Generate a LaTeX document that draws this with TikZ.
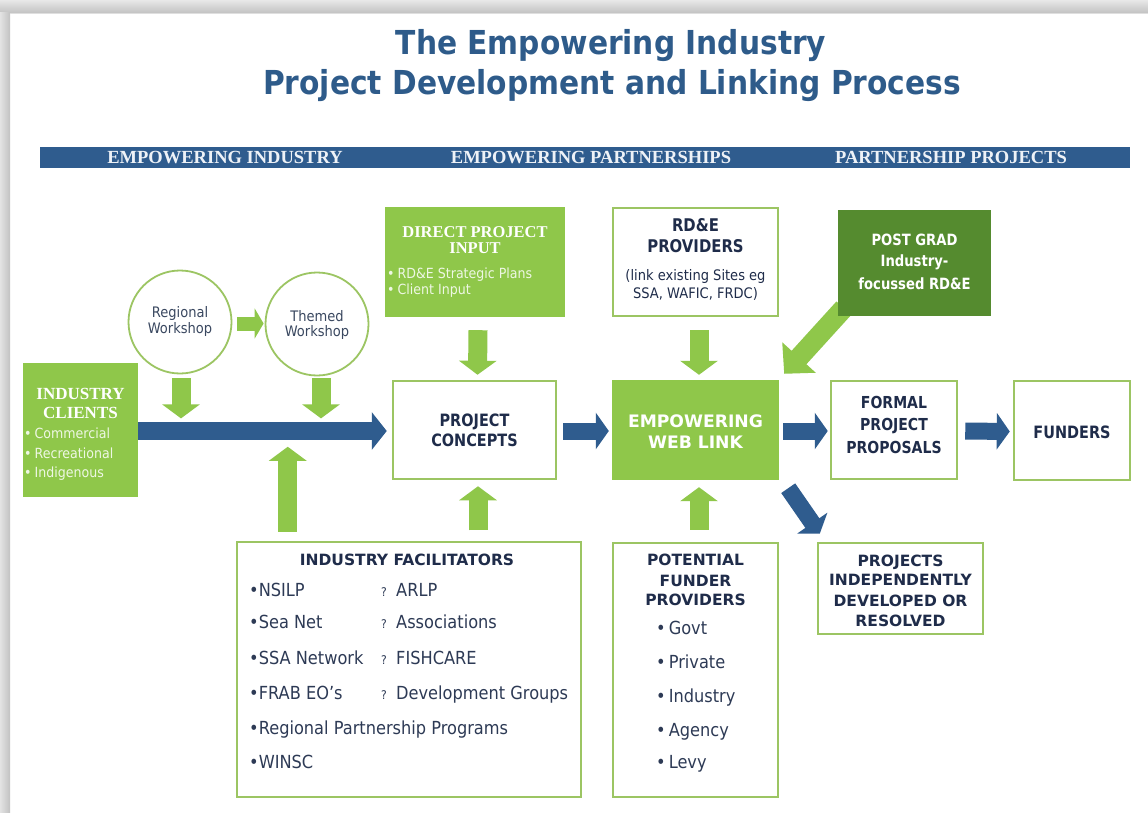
\documentclass[tikz,border=0pt]{standalone}
\usepackage{fontspec}
\setmainfont{DejaVu Sans}
\newfontfamily\bodyf[FakeStretch=0.9]{DejaVu Sans}
\newfontfamily\headf{DejaVu Sans}
\newfontfamily\headn[FakeStretch=0.85]{DejaVu Sans}
\newfontfamily\titlef[FakeStretch=0.9]{DejaVu Sans}
\newfontfamily\serf{Liberation Serif}
\usetikzlibrary{arrows.meta}
\newcommand\fsz[2]{\fontsize{#1pt}{#2pt}\selectfont}
\definecolor{lgreen}{HTML}{8FC74A}
\definecolor{bgreen}{HTML}{9CC563}
\definecolor{dgreen}{HTML}{558B2F}
\definecolor{dblue}{HTML}{2F5C8E}
\definecolor{navy}{HTML}{1F2C4A}
\definecolor{listc}{HTML}{2D3A55}
\definecolor{slate}{HTML}{3A4860}
\definecolor{ttl}{HTML}{2E5B8A}
\definecolor{pale}{HTML}{EEF7E4}
\definecolor{bandt}{HTML}{EEF2F7}
\pgfdeclarelayer{back}
\pgfdeclarelayer{arrows}
\pgfsetlayers{back,arrows,main}
\begin{document}
\begin{tikzpicture}[x=1pt,y=-1pt,
  gbox/.style={fill=lgreen, draw=none, inner sep=0pt},
  wbox/.style={fill=white, draw=bgreen, line width=2.5pt, inner sep=0pt},
  circ/.style={circle, draw=bgreen, line width=1.8pt, fill=white, minimum size=103pt, inner sep=0pt},
  txt/.style={anchor=base, inner sep=0pt},
  txtw/.style={anchor=base west, inner sep=0pt},
  garrow/.style={draw=lgreen, line width=19pt, -{Triangle[length=14pt,width=37pt]}},
  gsmall/.style={draw=lgreen, line width=14pt, -{Triangle[length=9pt,width=30pt]}},
  gdiag/.style={draw=lgreen, line width=20pt, -{Triangle[length=22pt,width=44pt]}},
  barrow/.style={draw=dblue, line width=17pt, -{Triangle[length=13pt,width=36pt]}},
  bmain/.style={draw=dblue, line width=18.5pt, -{Triangle[length=15pt,width=37pt]}},
  bodyt/.style={font=\bodyf\fsz{18}{20}, text=listc},
  headt/.style={font=\headf\bfseries\fsz{15.5}{18}, text=navy},
  headnt/.style={font=\headn\bfseries\fsz{17}{19}, text=navy},
  bandtxt/.style={anchor=base, inner sep=0pt, font=\serf\bfseries\fsz{18.5}{20}, text=bandt},
]
\useasboundingbox (0,0) rectangle (1148,813);
\begin{pgfonlayer}{back}
  \fill[white] (0,0) rectangle (1148,813);
  \shade[top color=gray!18, bottom color=gray!48] (0,0) rectangle (1148,13);
  \shade[left color=gray!22, right color=gray!48] (0,13) rectangle (10,813);
  \fill[gray!25] (10,13) rectangle (1148,14);
\end{pgfonlayer}

% title
\node[txt, font=\titlef\bfseries\fsz{33}{40}, text=ttl] (ttl1) at (611,55) {The Empowering Industry};
\node[txt, font=\titlef\bfseries\fsz{33}{40}, text=ttl] (ttl2) at (612,95) {Project Development and Linking Process};

% band
\node[fill=dblue, minimum width=1090pt, minimum height=21pt, inner sep=0pt] (band) at (585,157.5) {};
\node[bandtxt] (b1) at (225,164) {EMPOWERING INDUSTRY};
\node[bandtxt] (b2) at (591,164) {EMPOWERING PARTNERSHIPS};
\node[bandtxt] (b3) at (951,164) {PARTNERSHIP PROJECTS};

% boxes
\node[gbox, minimum width=180pt, minimum height=110pt] (dpi) at (475,262) {};
\node[wbox, minimum width=165pt, minimum height=108pt] (rde) at (695.5,262) {};
\node[fill=dgreen, minimum width=153pt, minimum height=106pt, inner sep=0pt] (pg) at (914.5,263) {};
\node[circ] (rw) at (180,322) {};
\node[circ] (tw) at (317,324) {};
\node[gbox, minimum width=115pt, minimum height=134pt] (ic) at (80.5,430) {};
\node[wbox, minimum width=163pt, minimum height=98pt] (pc) at (474.5,430) {};
\node[gbox, minimum width=167pt, minimum height=100pt] (web) at (695.5,430) {};
\node[wbox, minimum width=126pt, minimum height=98pt] (fpp) at (894,430) {};
\node[wbox, minimum width=116pt, minimum height=99pt] (fun) at (1072,430.5) {};
\node[wbox, minimum width=165pt, minimum height=91pt] (pi) at (900.5,588.5) {};
\node[wbox, minimum width=344pt, minimum height=255pt] (fac) at (409,669.5) {};
\node[wbox, minimum width=165pt, minimum height=254pt] (pfp) at (695.5,670) {};

% arrows
\begin{pgfonlayer}{arrows}
  \draw[garrow] ([shift={(1,4)}]rw.south) -- ++(0,40);
  \draw[garrow] ([shift={(4,2)}]tw.south) -- ++(0,40);
  \draw[gsmall] ([shift={(5,1.5)}]rw.east) -- ([shift={(-1,-0.5)}]tw.west);
  \draw[bmain] ([shift={(0,1)}]ic.east) -- ([shift={(-5,1)}]pc.west);
  \draw[garrow] ([shift={(52,-9)}]fac.north west) -- ++(0,-85);
  \draw[garrow] ([shift={(3,13)}]dpi.south) -- ([shift={(3,-5)}]pc.north);
  \draw[garrow] ([shift={(3.5,50)}]pc.south) -- ([shift={(3.5,6)}]pc.south);
  \draw[garrow] ([shift={(3.5,13)}]rde.south) -- ([shift={(3.5,-5)}]web.north);
  \draw[garrow] ([shift={(3.5,-12)}]pfp.north) -- ([shift={(3.5,7)}]web.south);
  \draw[barrow] ([shift={(6,1)}]pc.east) -- ([shift={(-3,1)}]web.west);
  \draw[barrow] ([shift={(4,1)}]web.east) -- ([shift={(-2,1)}]fpp.west);
  \draw[barrow] ([shift={(7,1)}]fpp.east) -- ([shift={(-3,1)}]fun.west);
  \draw[gdiag] ([shift={(6,-8)}]pg.south west) -- ([shift={(5,-6)}]web.north east);
  \draw[barrow] ([shift={(9,8)}]web.south east) -- ([shift={(3,-8)}]pi.north west);
\end{pgfonlayer}

% direct project input
\node[txt, font=\serf\bfseries\fsz{16.5}{18}, text=white] (dpi1) at (475,237) {DIRECT PROJECT};
\node[txt, font=\serf\bfseries\fsz{16.5}{18}, text=white] (dpi2) at (475,253) {INPUT};
\node[txtw, font=\bodyf\fsz{14}{16}, text=pale] (dpi3) at (387,278) {•\hspace{3pt}RD\&E Strategic Plans};
\node[txtw, font=\bodyf\fsz{14}{16}, text=pale] (dpi4) at (387,294) {•\hspace{3pt}Client Input};

% RD&E providers
\node[txt, font=\headn\bfseries\fsz{17.5}{19}, text=navy] (rde1) at (695.5,232) {RD\&E};
\node[txt, font=\headn\bfseries\fsz{17.5}{19}, text=navy] (rde2) at (695.5,252) {PROVIDERS};
\node[txt, font=\bodyf\fsz{14.5}{16}, text=navy] (rde3) at (695.5,280) {(link existing Sites eg};
\node[txt, font=\bodyf\fsz{14.5}{16}, text=navy] (rde4) at (695.5,298) {SSA, WAFIC, FRDC)};

% post grad
\node[txt, font=\headn\bfseries\fsz{15.5}{18}, text=white] (pg1) at (914.5,245) {POST GRAD};
\node[txt, font=\headn\bfseries\fsz{15.5}{18}, text=white] (pg2) at (914.5,266) {Industry-};
\node[txt, font=\headn\bfseries\fsz{15.5}{18}, text=white] (pg3) at (914.5,289) {focussed RD\&E};

% workshops
\node[txt, font=\bodyf\fsz{14.5}{16}, text=slate] (rw1) at (180,317) {Regional};
\node[txt, font=\bodyf\fsz{14.5}{16}, text=slate] (rw2) at (180,333) {Workshop};
\node[txt, font=\bodyf\fsz{14.5}{16}, text=slate] (tw1) at (317,321) {Themed};
\node[txt, font=\bodyf\fsz{14.5}{16}, text=slate] (tw2) at (317,336) {Workshop};

% industry clients
\node[txt, font=\serf\bfseries\fsz{17}{19}, text=white] (ic1) at (80.5,399) {INDUSTRY};
\node[txt, font=\serf\bfseries\fsz{17}{19}, text=white] (ic2) at (80.5,418) {CLIENTS};
\node[txtw, font=\bodyf\fsz{14}{16}, text=pale] (ic3) at (24,438) {•\hspace{3pt}Commercial};
\node[txtw, font=\bodyf\fsz{14}{16}, text=pale] (ic4) at (24,458) {•\hspace{3pt}Recreational};
\node[txtw, font=\bodyf\fsz{14}{16}, text=pale] (ic5) at (24,477) {•\hspace{3pt}Indigenous};

% project concepts
\node[txt, headnt] (pc1) at (474.5,426.5) {PROJECT};
\node[txt, headnt] (pc2) at (474.5,446) {CONCEPTS};

% web link
\node[txt, font=\headf\bfseries\fsz{17.2}{19}, text=white] (web1) at (695.5,427) {EMPOWERING};
\node[txt, font=\headf\bfseries\fsz{17.2}{19}, text=white] (web2) at (695.5,448) {WEB LINK};

% formal proposals
\node[txt, headnt, font=\headn\bfseries\fsz{16.5}{19}] (fpp1) at (894,408.5) {FORMAL};
\node[txt, headnt, font=\headn\bfseries\fsz{16.5}{19}] (fpp2) at (894,430) {PROJECT};
\node[txt, headnt, font=\headn\bfseries\fsz{16.5}{19}] (fpp3) at (894,453) {PROPOSALS};

% funders
\node[txt, headnt] (fun1) at (1072,438) {FUNDERS};

% projects independently
\node[txt, headt] (pi1) at (900.5,566) {PROJECTS};
\node[txt, headt] (pi2) at (900.5,585) {INDEPENDENTLY};
\node[txt, headt] (pi3) at (900.5,606) {DEVELOPED OR};
\node[txt, headt] (pi4) at (900.5,626) {RESOLVED};

% industry facilitators
\node[txt, headt] (fac0) at (407,565) {INDUSTRY FACILITATORS};
\node[txtw, bodyt] (f1) at (249,596) {•NSILP};
\node[txtw, bodyt] (f2) at (249,628) {•Sea Net};
\node[txtw, bodyt] (f3) at (249,664) {•SSA Network};
\node[txtw, bodyt] (f4) at (249,699) {•FRAB EO’s};
\node[txtw, bodyt] (f5) at (249,734) {•Regional Partnership Programs};
\node[txtw, bodyt] (f6) at (249,768) {•WINSC};
\node[txtw, bodyt] (g1) at (381,596) {\makebox[15pt][l]{\fsz{12}{12}?}ARLP};
\node[txtw, bodyt] (g2) at (381,628) {\makebox[15pt][l]{\fsz{12}{12}?}Associations};
\node[txtw, bodyt] (g3) at (381,664) {\makebox[15pt][l]{\fsz{12}{12}?}FISHCARE};
\node[txtw, bodyt] (g4) at (381,699) {\makebox[15pt][l]{\fsz{12}{12}?}Development Groups};

% potential funder providers
\node[txt, headt] (pf1) at (695.5,565) {POTENTIAL};
\node[txt, headt] (pf2) at (695.5,586) {FUNDER};
\node[txt, headt] (pf3) at (695.5,605) {PROVIDERS};
\node[txtw, bodyt] (pb1) at (656,634) {•\hspace{3pt}Govt};
\node[txtw, bodyt] (pb2) at (656,668) {•\hspace{3pt}Private};
\node[txtw, bodyt] (pb3) at (656,702) {•\hspace{3pt}Industry};
\node[txtw, bodyt] (pb4) at (656,736) {•\hspace{3pt}Agency};
\node[txtw, bodyt] (pb5) at (656,768) {•\hspace{3pt}Levy};
\end{tikzpicture}
\end{document}
